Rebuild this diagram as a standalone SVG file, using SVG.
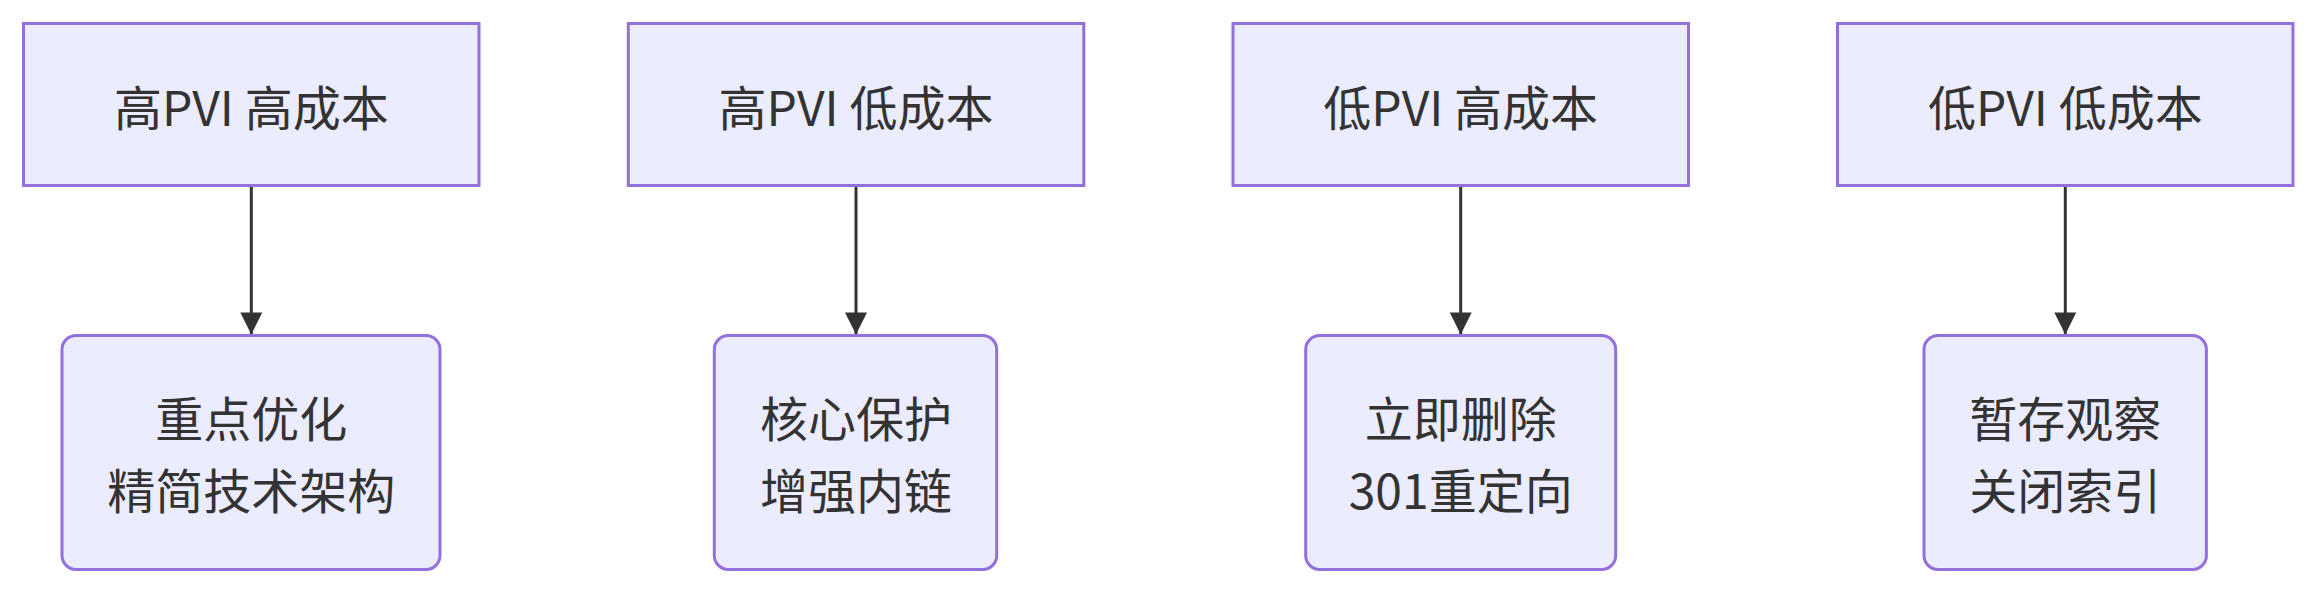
<svg xmlns="http://www.w3.org/2000/svg" width="2317" height="594" viewBox="0 0 2317 594">
<style>
.node rect{fill:#ECECFF;stroke:#9370DB;stroke-width:3}
.node text{font-family:"Noto Sans CJK SC","Noto Sans",sans-serif;font-size:48px;fill:#333333;text-anchor:middle;dominant-baseline:central}
.edge{stroke:#333333;stroke-width:3;fill:none}
</style>
<defs>
<marker id="arrow" markerUnits="userSpaceOnUse" markerWidth="24" markerHeight="22" refX="24" refY="12" viewBox="0 0 24 24" orient="auto">
<path d="M0,0 L24,12 L0,24 Z" fill="#333333"/>
</marker>
</defs>
<rect width="2317" height="594" fill="#ffffff"/>
<g id="connectors">
<path class="edge" d="M251.3,185.5 V334.5" marker-end="url(#arrow)"/>
<path class="edge" d="M856,185.5 V334.5" marker-end="url(#arrow)"/>
<path class="edge" d="M1460.7,185.5 V334.5" marker-end="url(#arrow)"/>
<path class="edge" d="M2065.3,185.5 V334.5" marker-end="url(#arrow)"/>
</g>
<g id="A" class="node">
<rect x="23.5" y="23.5" width="455.5" height="162"/>
<text x="251.3" y="105">高PVI 高成本</text>
</g>
<g id="B" class="node">
<rect x="628.3" y="23.5" width="455.5" height="162"/>
<text x="856" y="105">高PVI 低成本</text>
</g>
<g id="C" class="node">
<rect x="1233" y="23.5" width="455.5" height="162"/>
<text x="1460.7" y="105">低PVI 高成本</text>
</g>
<g id="D" class="node">
<rect x="1837.5" y="23.5" width="455.5" height="162"/>
<text x="2065.3" y="105">低PVI 低成本</text>
</g>
<g id="A1" class="node">
<rect x="62" y="335.5" width="378" height="234" rx="14" ry="14"/>
<text x="251.3" y="416">重点优化</text>
<text x="251.3" y="488">精简技术架构</text>
</g>
<g id="B1" class="node">
<rect x="714.3" y="335.5" width="282.4" height="234" rx="14" ry="14"/>
<text x="856" y="416">核心保护</text>
<text x="856" y="488">增强内链</text>
</g>
<g id="C1" class="node">
<rect x="1305.7" y="335.5" width="310" height="234" rx="14" ry="14"/>
<text x="1460.7" y="416">立即删除</text>
<text x="1460.7" y="488">301重定向</text>
</g>
<g id="D1" class="node">
<rect x="1924" y="335.5" width="282.4" height="234" rx="14" ry="14"/>
<text x="2065.3" y="416">暂存观察</text>
<text x="2065.3" y="488">关闭索引</text>
</g>
</svg>
